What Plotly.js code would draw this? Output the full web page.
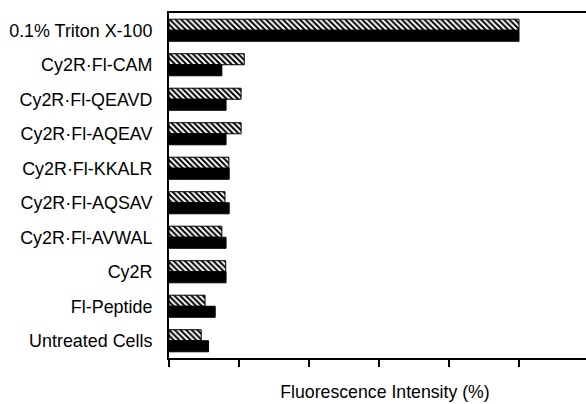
<!DOCTYPE html>
<html>
<head>
<meta charset="utf-8">
<script src="https://cdn.plot.ly/plotly-3.0.1.min.js"></script>
<style>
html,body{margin:0;padding:0;overflow:hidden;background:#fff;}
#chart{width:601px;height:404px;}
</style>
</head>
<body>
<div id="chart"></div>
<script>
const categories = ["0.1% Triton X-100","Cy2R·Fl-CAM","Cy2R·Fl-QEAVD","Cy2R·Fl-AQEAV","Cy2R·Fl-KKALR","Cy2R·Fl-AQSAV","Cy2R·Fl-AVWAL","Cy2R","Fl-Peptide","Untreated Cells"];
const hatchedValues = [100, 21.5, 20.6, 20.6, 17.1, 16.0, 15.1, 16.2, 10.3, 9.2];
const solidValues   = [100, 15.1, 16.3, 16.3, 17.2, 17.2, 16.3, 16.3, 13.2, 11.3];
const xTicks = [0, 20, 40, 60, 80, 100, 120];

const traces = [
  {
    type: 'bar', orientation: 'h', name: 'hatched',
    y: categories, x: hatchedValues,
    marker: {color: '#ffffff', line: {color: '#000', width: 1},
      pattern: {shape: '\\', fgcolor: '#000', bgcolor: '#fff', size: 4, solidity: 0.5}}
  },
  {
    type: 'bar', orientation: 'h', name: 'solid',
    y: categories, x: solidValues,
    marker: {color: '#000000', line: {color: '#000', width: 1}}
  }
];

const layout = {
  width: 601, height: 404,
  margin: {l: 169, r: 0, t: 13, b: 46},
  barmode: 'group', bargap: 0.36, bargroupgap: 0,
  showlegend: false,
  paper_bgcolor: '#fff', plot_bgcolor: '#fff',
  font: {family: '"Liberation Sans", Arial, sans-serif', color: '#000', size: 18},
  xaxis: {
    range: [0, 123.43], tickvals: xTicks, showticklabels: false,
    ticks: 'outside', ticklen: 7, tickwidth: 1.5, tickcolor: '#000',
    showline: true, linecolor: '#000', linewidth: 2, mirror: true,
    showgrid: false, zeroline: false,
    title: {text: 'Fluorescence Intensity (%)', font: {size: 17.7}, standoff: 20}
  },
  yaxis: {
    autorange: 'reversed', type: 'category',
    showline: true, linecolor: '#000', linewidth: 2,
    ticks: '', ticklabelstandoff: 11, showgrid: false, zeroline: false,
    tickfont: {size: 17.9}
  }
};

Plotly.newPlot('chart', traces, layout, {displayModeBar: false, staticPlot: true});
</script>
</body>
</html>
